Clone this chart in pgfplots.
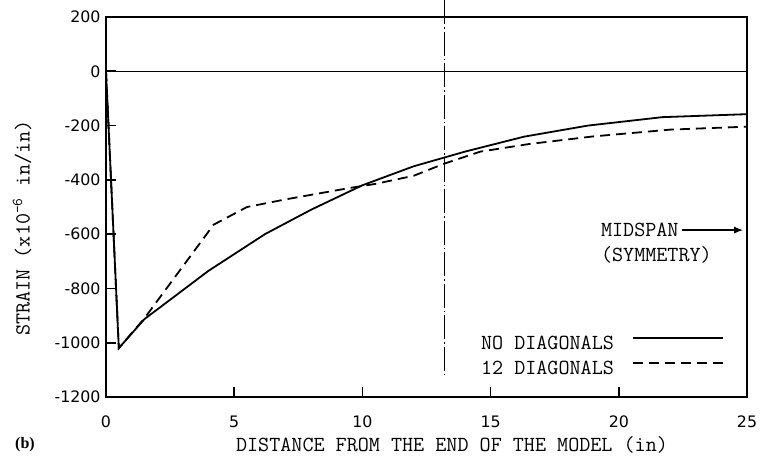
\documentclass[border=0pt]{standalone}
\usepackage{fontspec}
\newfontfamily\tickfont{DejaVu Sans}
\newfontfamily\bfont{Liberation Serif}
\usepackage{pgfplots}
\usetikzlibrary{arrows.meta}
\pgfplotsset{compat=1.18}
\newcommand\lab{\ttfamily\fontsize{21.5bp}{25bp}\selectfont\addfontfeature{FakeBold=0.8}}
\newcommand\tk{\tickfont\fontsize{15.8bp}{18bp}\selectfont}

\begin{document}
\begin{tikzpicture}
\path[use as bounding box] (0,0) rectangle (762bp,456bp);
\begin{axis}[
  at={(106bp,59bp)}, anchor=south west,
  scale only axis, width=641bp, height=380bp,
  xmin=0, xmax=25, ymin=-1200, ymax=200,
  xtick={0,5,10,15,20,25},
  ytick={-1200,-1000,-800,-600,-400,-200,0,200},
  tick pos=left,
  major tick length=10bp,
  tick style={black, line width=1.6bp},
  xmajorgrids, ymajorgrids,
  major grid style={black, line width=1.6bp, dash pattern=on 10bp off 2000bp},
  axis line style={line width=2.2bp},
  clip=false,
  /pgf/number format/assume math mode=true,
  /pgf/number format/1000 sep={},
  ticklabel style={font=\tk},
  yticklabel style={xshift=-2bp},
  xticklabel style={yshift=-15bp},
  legend cell align=left,
  legend plot pos=right,
  legend image code/.code={\draw[#1] (0bp,6bp) -- (90bp,6bp);},
  legend style={draw=none, fill=none, inner sep=0pt,
    at={(axis cs:14.62,-971)}, anchor=north west,
    font=\lab, row sep=7bp, column sep=18bp,
    nodes={inner sep=0pt, text height=14bp, text depth=4bp}},
]
\addplot[line width=1.3bp, forget plot] coordinates {(0,0) (25,0)};
\addplot[line width=0.7bp, dash pattern=on 24bp off 3bp on 1.5bp off 3bp, forget plot]
  coordinates {(13.2,262) (13.2,-1130)};
\addplot[line width=1.8bp] coordinates {
 (0,0) (0.5,-1020) (1.5,-913) (4,-735) (6.2,-600) (8,-510) (10,-420)
 (12,-350) (14,-296) (16.3,-241) (18.8,-200) (21.7,-169) (25,-158)};
\addlegendentry{NO DIAGONALS}
\addplot[line width=1.8bp, dash pattern=on 10bp off 6bp] coordinates {
 (0,0) (0.5,-1020) (1.5,-910) (4.2,-565) (5.5,-500) (7,-472) (9.5,-430)
 (10.5,-415) (12,-385) (13.2,-340) (14.6,-296) (16.5,-268) (19,-240)
 (22,-215) (25,-204)};
\addlegendentry{12 DIAGONALS}
\node[anchor=west, inner sep=0pt, font=\lab] at (axis cs:19.3,-585) {MIDSPAN};
\draw[-{Latex[length=9bp,width=7bp]}, line width=1.2bp] (axis cs:22.45,-585) -- (axis cs:24.85,-585);
\node[anchor=west, inner sep=0pt, font=\lab] at (axis cs:19.3,-675) {(SYMMETRY)};
\end{axis}
\node[font=\lab] at (452bp,11bp) {DISTANCE FROM THE END OF THE MODEL (in)};
\node[font=\lab, rotate=90] at (22bp,228bp) {STRAIN (x10\textsuperscript{-6} in/in)};
\node[font=\bfont\bfseries\fontsize{16bp}{18bp}\selectfont] at (25bp,11bp) {(b)};
\end{tikzpicture}
\end{document}
